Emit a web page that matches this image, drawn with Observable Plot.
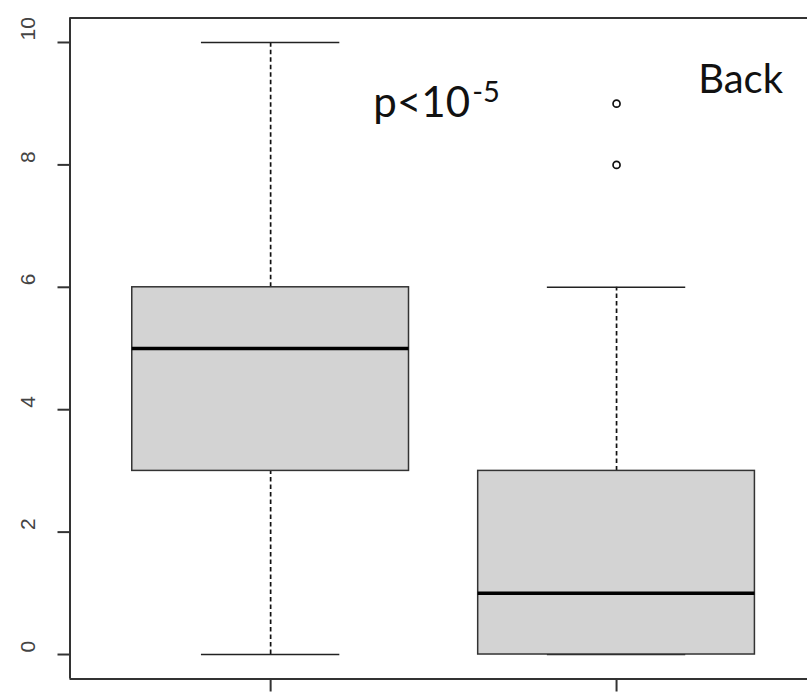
<!DOCTYPE html>
<html>
<head>
<meta charset="utf-8">
<script src="https://cdn.jsdelivr.net/npm/d3@7"></script>
<script src="https://cdn.jsdelivr.net/npm/@observablehq/plot@0.6"></script>
<style>
  html, body { margin: 0; padding: 0; background: #fff; }
</style>
</head>
<body>
<div id="chart"></div>
<script>
// ---- data ----
const groups   = ["Group 1", "Group 2"];
const position = [1, 2];
const whiskLo  = [0, 0];
const q1       = [3, 0];
const median   = [5, 1];
const q3       = [6, 3];
const whiskHi  = [10, 6];
const outlierGroup = [2, 2];
const outlierValue = [8, 9];
const yTicks = [0, 2, 4, 6, 8, 10];
const xTicks = [1, 2];
const annotMain = "p<10";
const annotSup = "-5";
const annotLabel = "Back";

const boxes = groups.map((g, i) => ({
  g, pos: position[i], lo: whiskLo[i], q1: q1[i], med: median[i], q3: q3[i], hi: whiskHi[i]
}));
const outliers = outlierValue.map((v, i) => ({pos: outlierGroup[i], v}));

const frameColor = "#333";
const chart = Plot.plot({
  width: 807,
  height: 693,
  marginLeft: 69.5,
  marginRight: 0,
  marginTop: 17.5,
  marginBottom: 14.5,
  style: {background: "#fff", fontFamily: "Liberation Sans, Arial, sans-serif"},
  x: {domain: [0.42, 2.552], axis: null},
  y: {domain: [-0.4, 10.4], axis: null},
  marks: [
    // whiskers (dashed)
    Plot.ruleX(boxes, {x: "pos", y1: "lo", y2: "q1", stroke: "#111", strokeWidth: 1.7, strokeDasharray: "4.5,3"}),
    Plot.ruleX(boxes, {x: "pos", y1: "q3", y2: "hi", stroke: "#111", strokeWidth: 1.7, strokeDasharray: "4.5,3"}),
    // caps
    Plot.ruleY(boxes, {y: "lo", x1: d => d.pos - 0.2, x2: d => d.pos + 0.2, stroke: "#222", strokeWidth: 1.5}),
    Plot.ruleY(boxes, {y: "hi", x1: d => d.pos - 0.2, x2: d => d.pos + 0.2, stroke: "#222", strokeWidth: 1.5}),
    // boxes
    Plot.rect(boxes, {x1: d => d.pos - 0.4, x2: d => d.pos + 0.4, y1: "q1", y2: "q3", fill: "#d3d3d3", stroke: "#333", strokeWidth: 1.5}),
    // medians
    Plot.ruleY(boxes, {y: "med", x1: d => d.pos - 0.4, x2: d => d.pos + 0.4, stroke: "#000", strokeWidth: 3.5}),
    // outliers
    Plot.dot(outliers, {x: "pos", y: "v", r: 3.5, stroke: "#111", strokeWidth: 1.7, fill: "none"}),
    // frame (left, top, bottom; right edge falls outside the picture)
    Plot.ruleX([0.42], {y1: -0.4, y2: 10.4, stroke: frameColor, strokeWidth: 2}),
    Plot.ruleY([-0.4, 10.4], {x1: 0.42, x2: 2.552, stroke: frameColor, strokeWidth: 2}),
    // axes
    Plot.axisY({ticks: yTicks, tickSize: 12, tickFormat: () => "", label: null, stroke: frameColor, strokeWidth: 2}),
    Plot.text(yTicks, {y: d => d, text: d => String(d), frameAnchor: "left", dx: -42, dy: -2, rotate: -90, fontSize: 21, fill: "#444", fontFamily: "Liberation Sans, Arial, sans-serif"}),
    Plot.axisX({ticks: xTicks, tickSize: 13, tickFormat: () => "", label: null, stroke: frameColor, strokeWidth: 2, anchor: "bottom"}),
    // annotations
    Plot.text([annotMain], {x: 1.297, y: 8.84, text: d => d, textAnchor: "start", lineAnchor: "bottom", fontSize: 42, fontFamily: "Lato, sans-serif", fill: "#111", dy: 4}),
    Plot.text([annotSup], {x: 1.583, y: 9.02, text: d => d, textAnchor: "start", lineAnchor: "bottom", fontSize: 29, fontFamily: "Lato, sans-serif", fill: "#111", dy: 0}),
    Plot.text([annotLabel], {x: 2.236, y: 9.3, text: d => d, textAnchor: "start", lineAnchor: "bottom", fontSize: 40, fontFamily: "Lato, sans-serif", fill: "#111", dy: 8})
  ]
});
document.getElementById("chart").appendChild(chart);
</script>
</body>
</html>
